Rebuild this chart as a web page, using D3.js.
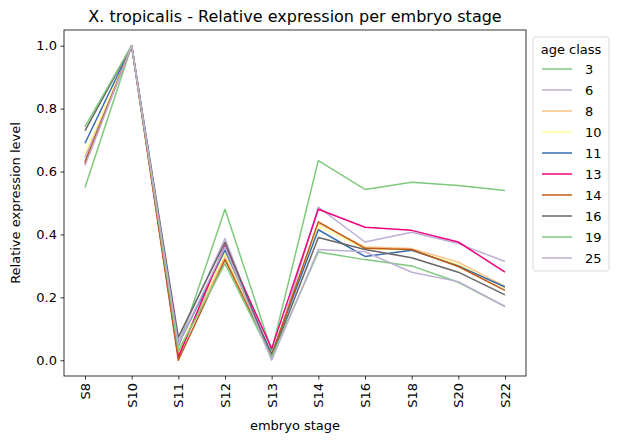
<!DOCTYPE html>
<html>
<head>
<meta charset="utf-8">
<script src="https://cdn.jsdelivr.net/npm/d3@7"></script>
<style>
  body { margin: 0; background: #fff; }
  svg text { font-family: "DejaVu Sans", sans-serif; fill: #000; }
</style>
</head>
<body>
<div id="chart"></div>
<script>
// stages on the x axis
const stages = ["S8", "S10", "S11", "S12", "S13", "S14", "S16", "S18", "S20", "S22"];
const ageClasses = ["3", "6", "8", "10", "11", "13", "14", "16", "19", "25"];
const yTicks = [0.0, 0.2, 0.4, 0.6, 0.8, 1.0];

// relative expression per age class
const age3  = [0.549, 1.0, 0.040, 0.480, 0.030, 0.635, 0.543, 0.566, 0.556, 0.540];
const age6  = [0.645, 1.0, 0.063, 0.387, 0.002, 0.487, 0.376, 0.407, 0.371, 0.314];
const age8  = [0.630, 1.0, 0.020, 0.330, 0.020, 0.435, 0.360, 0.355, 0.312, 0.235];
const age10 = [0.658, 1.0, 0.030, 0.340, 0.020, 0.425, 0.355, 0.350, 0.305, 0.230];
const age11 = [0.690, 1.0, 0.050, 0.350, 0.020, 0.415, 0.330, 0.350, 0.300, 0.233];
const age13 = [0.625, 1.0, 0.010, 0.365, 0.037, 0.480, 0.423, 0.413, 0.376, 0.280];
const age14 = [0.630, 1.0, 0.000, 0.320, 0.015, 0.440, 0.356, 0.352, 0.298, 0.222];
const age16 = [0.730, 1.0, 0.074, 0.375, 0.010, 0.390, 0.352, 0.326, 0.280, 0.208];
const age19 = [0.743, 1.0, 0.030, 0.307, 0.010, 0.344, 0.320, 0.300, 0.248, 0.171];
const age25 = [0.619, 1.0, 0.050, 0.360, 0.000, 0.352, 0.345, 0.280, 0.250, 0.171];

const seriesValues = [age3, age6, age8, age10, age11, age13, age14, age16, age19, age25];

// matplotlib "Accent" colours, cycling after 8
const accent = ["#7fc97f", "#beaed4", "#fdc086", "#ffff99", "#386cb0", "#f0027f", "#bf5b17", "#666666"];

const width = 619, height = 442;
const margin = { top: 30, right: 93, bottom: 66, left: 64 };
const plotW = width - margin.left - margin.right;
const plotH = height - margin.top - margin.bottom;

const svg = d3.select("#chart").append("svg")
    .attr("width", width)
    .attr("height", height);

const g = svg.append("g").attr("transform", `translate(${margin.left},${margin.top})`);

const n = stages.length;
const x = d3.scaleLinear().domain([-0.45, n - 1 + 0.45]).range([0, plotW]);
const y = d3.scaleLinear().domain([-0.05, 1.05]).range([plotH, 0]);

const line = d3.line()
    .x((d, i) => x(i))
    .y(d => y(d));

// lines
g.append("g")
    .selectAll("path")
    .data(seriesValues)
    .enter().append("path")
    .attr("d", d => line(d))
    .attr("fill", "none")
    .attr("stroke", (d, i) => accent[i % accent.length])
    .attr("stroke-width", 1.5)
    .attr("stroke-linejoin", "round");

// axes
const xAxis = g.append("g")
    .attr("transform", `translate(0,${plotH})`)
    .call(d3.axisBottom(x).tickValues(d3.range(n)).tickFormat(i => stages[i]).tickSizeOuter(0).tickSize(3.5));
xAxis.selectAll("text")
    .attr("transform", "rotate(-90)")
    .attr("text-anchor", "end")
    .attr("x", -7)
    .attr("y", 0)
    .attr("dy", "0.35em")
    .style("font-size", "13px");

const yAxis = g.append("g")
    .call(d3.axisLeft(y).tickValues(yTicks).tickFormat(d3.format(".1f")).tickSizeOuter(0).tickSize(3.5));
yAxis.selectAll("text").style("font-size", "13px").attr("x", -7);

g.selectAll(".domain").remove();
g.selectAll(".tick line").attr("stroke", "#000").attr("stroke-width", 0.8);

// frame
g.append("rect")
    .attr("width", plotW)
    .attr("height", plotH)
    .attr("fill", "none")
    .attr("stroke", "#000")
    .attr("stroke-width", 0.8);

// title and axis labels
svg.append("text")
    .attr("x", margin.left + plotW / 2)
    .attr("y", 22)
    .attr("text-anchor", "middle")
    .style("font-size", "16px")
    .text("X. tropicalis - Relative expression per embryo stage");

svg.append("text")
    .attr("x", margin.left + plotW / 2)
    .attr("y", 430)
    .attr("text-anchor", "middle")
    .style("font-size", "13px")
    .text("embryo stage");

svg.append("text")
    .attr("transform", `translate(20,${margin.top + plotH / 2}) rotate(-90)`)
    .attr("text-anchor", "middle")
    .style("font-size", "13px")
    .text("Relative expression level");

// legend
const legend = svg.append("g").attr("transform", "translate(533,37)");
legend.append("rect")
    .attr("width", 76)
    .attr("height", 234)
    .attr("rx", 2.5)
    .attr("fill", "#fff")
    .attr("stroke", "#d9d9d9")
    .attr("stroke-width", 1);
legend.append("text")
    .attr("x", 38)
    .attr("y", 17)
    .attr("text-anchor", "middle")
    .style("font-size", "13px")
    .text("age class");

const item = legend.selectAll(".item")
    .data(ageClasses)
    .enter().append("g")
    .attr("class", "item")
    .attr("transform", (d, i) => `translate(0,${32 + i * 21})`);
item.append("line")
    .attr("x1", 9).attr("x2", 39)
    .attr("stroke", (d, i) => accent[i % accent.length])
    .attr("stroke-width", 1.5);
item.append("text")
    .attr("x", 52)
    .attr("dy", "0.35em")
    .style("font-size", "13px")
    .text(d => d);
</script>
</body>
</html>
